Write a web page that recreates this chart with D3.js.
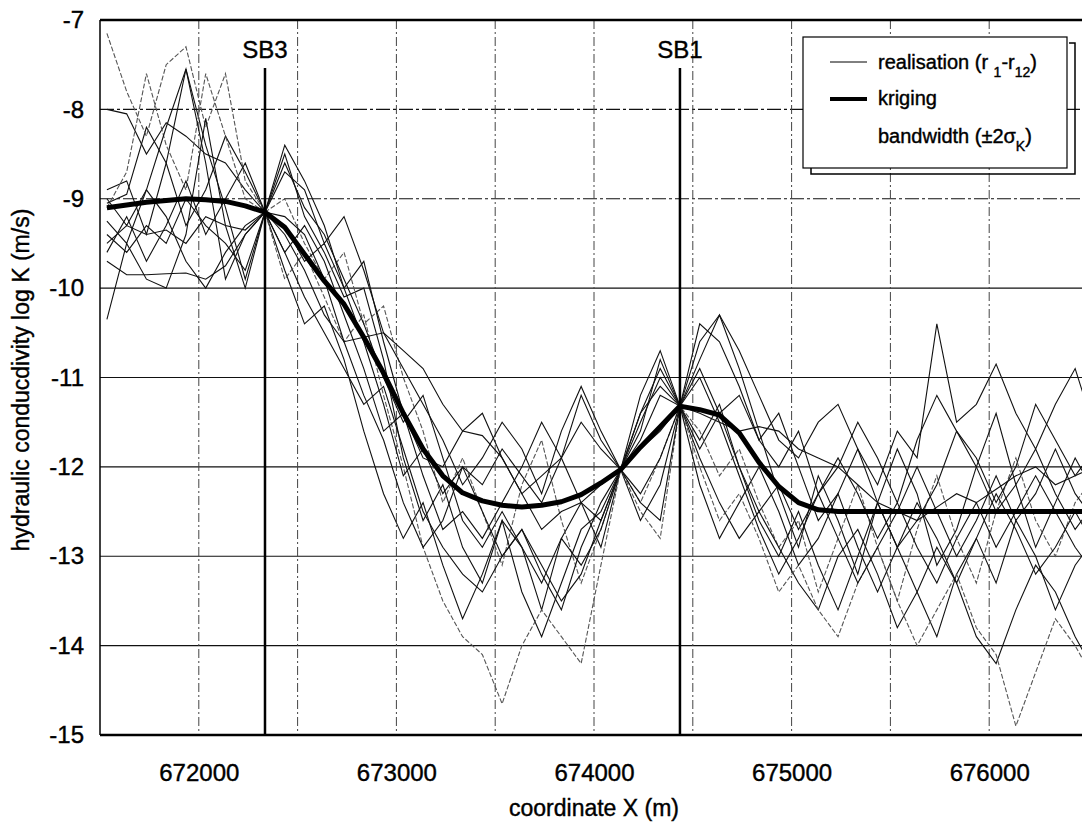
<!DOCTYPE html>
<html>
<head>
<meta charset="utf-8">
<script src="https://cdn.jsdelivr.net/npm/d3@7"></script>
<style>
  body { margin: 0; background: #fff; }
  text { font-family: "Liberation Sans", Arial, sans-serif; fill: #000; stroke: #000; stroke-width: 0.4px; }
</style>
</head>
<body>
<div id="canvas"></div>
<script>
// sample positions (every 100 m)
const xStart = 671535;
const xStep = 100;

const yTicks = [-7, -8, -9, -10, -11, -12, -13, -14, -15];
const xTicks = [672000, 673000, 674000, 675000, 676000];
const xGrid = [672000, 672500, 673000, 673500, 674000, 674500, 675000, 675500, 676000, 676500];

const wells = [
  { name: "SB3", x: 672335 },
  { name: "SB1", x: 674435 }
];

const kriging = [-9.10, -9.07, -9.04, -9.02, -9.00, -9.01, -9.03, -9.08, -9.15, -9.32,
  -9.62, -9.92, -10.18, -10.55, -10.95, -11.40, -11.80, -12.10, -12.29, -12.38,
  -12.43, -12.45, -12.43, -12.39, -12.31, -12.18, -12.03, -11.78, -11.55, -11.32,
  -11.36, -11.42, -11.62, -11.95, -12.22, -12.40, -12.48, -12.50, -12.50, -12.50,
  -12.50, -12.50, -12.50, -12.50, -12.50, -12.50, -12.50, -12.50, -12.50, -12.50, -12.50];

const r1 = [-9.05, -8.95, -8.2, -8.6, -9.3, -8.9, -8.3, -8.7, -9.15, -8.5, -9.2, -9.6, -10.1, -10.0, -10.8, -11.9, -12.6, -12.2, -12.9, -13.3, -12.6, -12.9, -13.6, -12.8, -12.4, -12.9, -12.03, -11.5, -11.0, -11.32, -10.8, -10.3, -10.9, -11.6, -12.3, -12.9, -12.1, -12.6, -13.2, -12.4, -11.8, -12.3, -13.1, -12.7, -12.0, -11.4, -12.2, -12.9, -12.4, -11.9, -12.3];
const r2 = [-7.15, -7.8, -8.3, -7.5, -7.3, -8.2, -7.6, -8.8, -9.15, -9.0, -9.5, -9.9, -9.6, -10.4, -10.2, -11.0, -11.6, -12.4, -11.9, -12.5, -13.1, -12.2, -11.7, -12.6, -13.3, -12.7, -12.03, -12.4, -11.9, -11.32, -11.6, -12.1, -11.8, -12.4, -12.9, -12.6, -13.4, -12.8, -12.2, -12.9, -13.5, -12.7, -12.1, -12.8, -13.3, -12.5, -11.9, -12.6, -13.0, -12.4, -12.1];
const r3 = [-9.7, -9.85, -9.85, -9.84, -9.83, -9.9, -9.75, -9.4, -9.15, -9.6, -10.1, -10.5, -10.9, -11.3, -11.1, -11.8, -12.5, -12.9, -13.2, -13.4, -13.0, -12.7, -13.1, -13.5, -13.2, -12.6, -12.03, -11.7, -11.2, -11.32, -11.9, -12.4, -12.8, -12.5, -12.9, -13.3, -13.6, -13.0, -12.7, -13.2, -13.8, -13.4, -12.9, -13.3, -13.9, -14.2, -13.6, -13.1, -13.4, -13.9, -14.3];
const r4 = [-8.0, -8.05, -8.5, -8.15, -8.3, -8.5, -8.6, -8.9, -9.15, -8.7, -8.9, -9.5, -9.2, -9.8, -10.5, -10.9, -11.3, -11.7, -12.2, -11.9, -11.5, -11.8, -12.3, -11.6, -11.1, -11.6, -12.03, -11.4, -10.9, -11.32, -10.9, -11.4, -11.2, -11.7, -12.0, -11.6, -12.3, -12.0, -11.5, -11.9, -12.4, -11.7, -11.2, -11.6, -11.9, -12.4, -12.0, -11.3, -11.7, -12.1, -11.8];
const r5 = [-10.35, -9.5, -9.9, -10.0, -9.4, -8.1, -9.3, -10.0, -9.15, -9.8, -10.4, -10.2, -10.8, -11.6, -12.3, -12.8, -12.4, -13.1, -13.7, -13.2, -12.6, -13.4, -13.9, -13.3, -12.7, -12.5, -12.03, -12.6, -12.2, -11.32, -11.7, -11.3, -12.0, -12.6, -13.0, -12.5, -13.1, -13.6, -13.0, -12.4, -12.9, -13.4, -13.9, -13.2, -12.8, -13.3, -12.6, -13.0, -13.6, -13.1, -12.8];
const r6 = [-8.9, -8.8, -9.4, -8.6, -7.55, -8.4, -9.1, -9.9, -9.15, -8.4, -8.8, -9.3, -10.0, -9.7, -10.6, -11.4, -11.9, -12.0, -11.6, -11.4, -11.9, -12.3, -12.1, -11.9, -12.4, -12.6, -12.03, -11.6, -10.8, -11.32, -10.4, -10.6, -11.1, -11.7, -11.4, -12.0, -12.6, -12.3, -11.8, -12.4, -12.9, -12.6, -12.2, -11.6, -12.0, -12.5, -12.2, -11.8, -12.3, -12.7, -12.4];
const r7 = [-9.1, -8.7, -7.6, -8.4, -8.9, -7.6, -8.3, -9.0, -9.15, -9.9, -9.6, -10.1, -10.6, -10.3, -11.2, -12.0, -12.9, -13.5, -13.9, -14.1, -14.65, -14.0, -13.6, -13.9, -14.2, -13.1, -12.03, -12.5, -12.8, -11.32, -12.0, -12.6, -12.3, -12.8, -13.4, -13.1, -13.6, -13.9, -13.3, -12.9, -13.5, -14.0, -13.6, -13.2, -13.8, -14.1, -14.9, -14.3, -13.7, -14.0, -14.4];
const r8 = [-9.5, -9.3, -9.4, -9.35, -9.5, -9.2, -9.3, -9.35, -9.15, -9.4, -9.8, -10.3, -10.6, -10.55, -10.5, -10.7, -10.9, -11.3, -11.6, -11.65, -11.9, -12.3, -12.7, -12.5, -12.4, -12.2, -12.03, -11.8, -11.6, -11.32, -11.4, -11.5, -11.6, -11.55, -11.6, -11.8, -11.9, -12.0, -12.2, -12.4, -12.5, -12.6, -12.45, -12.3, -12.4, -12.25, -12.1, -12.0, -12.2, -12.1, -12.0];
const r9 = [-9.4, -9.6, -9.3, -9.5, -9.0, -9.3, -9.5, -9.8, -9.15, -9.2, -9.4, -9.9, -10.6, -11.2, -11.7, -12.4, -12.9, -12.6, -12.0, -12.5, -13.0, -12.7, -13.2, -13.6, -12.9, -12.4, -12.03, -12.3, -11.9, -11.32, -12.2, -12.8, -12.4, -12.0, -12.5, -13.1, -12.8, -12.3, -12.9, -13.4, -12.9, -12.4, -12.8, -13.3, -12.8, -12.3, -12.7, -13.2, -12.9, -12.5, -12.9];
const r10 = [-9.0, -9.3, -8.9, -9.2, -9.7, -10.0, -9.6, -9.3, -9.15, -9.6, -9.3, -9.7, -10.3, -10.9, -11.6, -11.4, -12.1, -12.7, -12.5, -12.8, -12.4, -12.0, -11.5, -11.9, -11.2, -11.7, -12.03, -11.4, -11.1, -11.32, -11.0, -11.5, -12.1, -12.7, -13.2, -12.8, -12.3, -12.8, -13.3, -12.9, -12.5, -12.0, -12.5, -13.0, -12.6, -12.1, -12.6, -12.3, -11.8, -12.3, -12.6];
const r11 = [-9.25, -9.5, -8.9, -8.2, -7.55, -8.6, -9.9, -9.4, -9.15, -8.6, -9.1, -9.4, -9.9, -10.4, -11.0, -11.5, -11.2, -11.9, -12.6, -12.9, -12.5, -12.9, -13.3, -12.8, -13.1, -12.7, -12.03, -12.4, -12.6, -11.32, -11.8, -11.4, -12.0, -12.5, -12.2, -12.7, -12.3, -11.9, -12.3, -12.8, -12.4, -12.9, -13.3, -12.8, -12.4, -12.9, -12.5, -12.1, -12.5, -12.9, -13.2];
const r12 = [-9.6, -9.2, -9.7, -9.3, -8.8, -9.4, -9.0, -8.6, -9.15, -9.3, -9.7, -9.5, -10.0, -10.6, -11.3, -12.1, -11.8, -12.3, -12.0, -12.2, -11.8, -12.1, -12.4, -11.9, -11.5, -11.8, -12.03, -11.2, -10.7, -11.32, -10.6, -10.3, -10.7, -11.2, -11.7, -11.9, -11.5, -11.3, -11.8, -12.2, -11.6, -11.9, -10.4, -11.5, -11.3, -10.85, -11.4, -11.8, -11.3, -10.9, -11.6];

const realisations = [r1, r2, r3, r4, r5, r6, r7, r8, r9, r10, r11, r12];
const greyOnes = [1, 6]; // r2 and r7 look faint / broken in the scan

const W = 1082, H = 825;
const margin = { top: 20, left: 100 };
const plotRight = 1088, plotBottom = 735;

const svg = d3.select("#canvas").append("svg")
  .attr("width", W).attr("height", H);

const x = d3.scaleLinear().domain([671500, 676500]).range([margin.left, plotRight]);
const y = d3.scaleLinear().domain([-15, -7]).range([plotBottom, margin.top]);

svg.append("clipPath").attr("id", "clip")
  .append("rect")
  .attr("x", margin.left).attr("y", margin.top)
  .attr("width", plotRight - margin.left).attr("height", plotBottom - margin.top);

// horizontal grid
svg.append("g")
  .selectAll("line")
  .data(yTicks.filter(v => v > -15 && v < -7))
  .join("line")
  .attr("x1", margin.left).attr("x2", plotRight)
  .attr("y1", d => y(d)).attr("y2", d => y(d))
  .attr("stroke", "#111")
  .attr("stroke-width", 1.2)
  .attr("stroke-dasharray", d => d > -10 ? "14,3,3,3" : null);

// vertical grid
svg.append("g")
  .selectAll("line")
  .data(xGrid)
  .join("line")
  .attr("x1", d => x(d)).attr("x2", d => x(d))
  .attr("y1", margin.top).attr("y2", plotBottom)
  .attr("stroke", "#444")
  .attr("stroke-width", 1)
  .attr("stroke-dasharray", "9,3,2,3");

const xs = kriging.map((_, i) => xStart + i * xStep);
const line = d3.line().x((d, i) => x(xs[i])).y(d => y(d));

const lines = svg.append("g").attr("clip-path", "url(#clip)");

lines.selectAll("path.real")
  .data(realisations)
  .join("path")
  .attr("class", "real")
  .attr("fill", "none")
  .attr("stroke", (d, i) => greyOnes.includes(i) ? "#555" : "#111")
  .attr("stroke-width", 1.1)
  .attr("stroke-dasharray", (d, i) => greyOnes.includes(i) ? "5,2" : null)
  .attr("stroke-linejoin", "miter")
  .attr("d", line);

lines.append("path")
  .datum(kriging)
  .attr("fill", "none")
  .attr("stroke", "#000")
  .attr("stroke-width", 5)
  .attr("stroke-linejoin", "round")
  .attr("d", line);

// wells
const wg = svg.append("g")
  .selectAll("g")
  .data(wells)
  .join("g");
wg.append("line")
  .attr("x1", d => x(d.x)).attr("x2", d => x(d.x))
  .attr("y1", 68).attr("y2", plotBottom)
  .attr("stroke", "#000").attr("stroke-width", 2.5);
wg.append("text")
  .attr("x", d => x(d.x)).attr("y", 58)
  .attr("text-anchor", "middle")
  .style("font-size", "24px")
  .text(d => d.name);

// frame
svg.append("line")
  .attr("x1", margin.left).attr("x2", plotRight)
  .attr("y1", margin.top).attr("y2", margin.top)
  .attr("stroke", "#000").attr("stroke-width", 2.5);
svg.append("line")
  .attr("x1", margin.left).attr("x2", plotRight)
  .attr("y1", plotBottom).attr("y2", plotBottom)
  .attr("stroke", "#000").attr("stroke-width", 2.5);
svg.append("line")
  .attr("x1", margin.left).attr("x2", margin.left)
  .attr("y1", margin.top).attr("y2", plotBottom)
  .attr("stroke", "#000").attr("stroke-width", 1.5);

// axes
const yAxis = svg.append("g")
  .attr("transform", `translate(${margin.left},0)`)
  .call(d3.axisLeft(y).tickValues(yTicks).tickSize(0).tickPadding(16).tickFormat(d3.format("d")));
yAxis.select(".domain").remove();
yAxis.selectAll("text")
  .style("font-size", "24px")
  .style("font-family", "'Liberation Sans', Arial, sans-serif")
  .text(d => d < 0 ? "-" + Math.abs(d) : d);

const xAxis = svg.append("g")
  .attr("transform", `translate(0,${plotBottom})`)
  .call(d3.axisBottom(x).tickValues(xTicks).tickSize(0).tickPadding(29).tickFormat(d3.format("d")));
xAxis.select(".domain").remove();
xAxis.selectAll("text")
  .style("font-size", "24px")
  .style("font-family", "'Liberation Sans', Arial, sans-serif");

svg.append("text")
  .attr("x", 594).attr("y", 816)
  .attr("text-anchor", "middle")
  .style("font-size", "23px")
  .text("coordinate X (m)");

svg.append("text")
  .attr("transform", "translate(29,380) rotate(-90)")
  .attr("text-anchor", "middle")
  .style("font-size", "23px")
  .text("hydraulic conducdivity log K (m/s)");

// legend
const lg = svg.append("g").attr("transform", "translate(803,37)");
lg.append("path")
  .attr("d", "M 266 6 H 272 V 137 H 8 V 131")
  .attr("fill", "none").attr("stroke", "#000").attr("stroke-width", 1.5);
lg.append("rect")
  .attr("width", 264).attr("height", 131)
  .attr("fill", "#fff").attr("stroke", "#000").attr("stroke-width", 1.2);

lg.append("line").attr("x1", 27).attr("x2", 64).attr("y1", 25).attr("y2", 25)
  .attr("stroke", "#000").attr("stroke-width", 1);
lg.append("line").attr("x1", 27).attr("x2", 64).attr("y1", 62).attr("y2", 62)
  .attr("stroke", "#000").attr("stroke-width", 4);

const t1 = lg.append("text").attr("x", 75).attr("y", 32).style("font-size", "20px");
t1.append("tspan").text("realisation (r ");
t1.append("tspan").attr("baseline-shift", "sub").style("font-size", "14px").text("1");
t1.append("tspan").text("-r");
t1.append("tspan").attr("baseline-shift", "sub").style("font-size", "14px").text("12");
t1.append("tspan").text(")");

lg.append("text").attr("x", 75).attr("y", 68).style("font-size", "20px").text("kriging");

const t3 = lg.append("text").attr("x", 75).attr("y", 106).style("font-size", "20px");
t3.append("tspan").text("bandwidth (±2σ");
t3.append("tspan").attr("baseline-shift", "sub").style("font-size", "14px").text("K");
t3.append("tspan").text(")");
</script>
</body>
</html>
